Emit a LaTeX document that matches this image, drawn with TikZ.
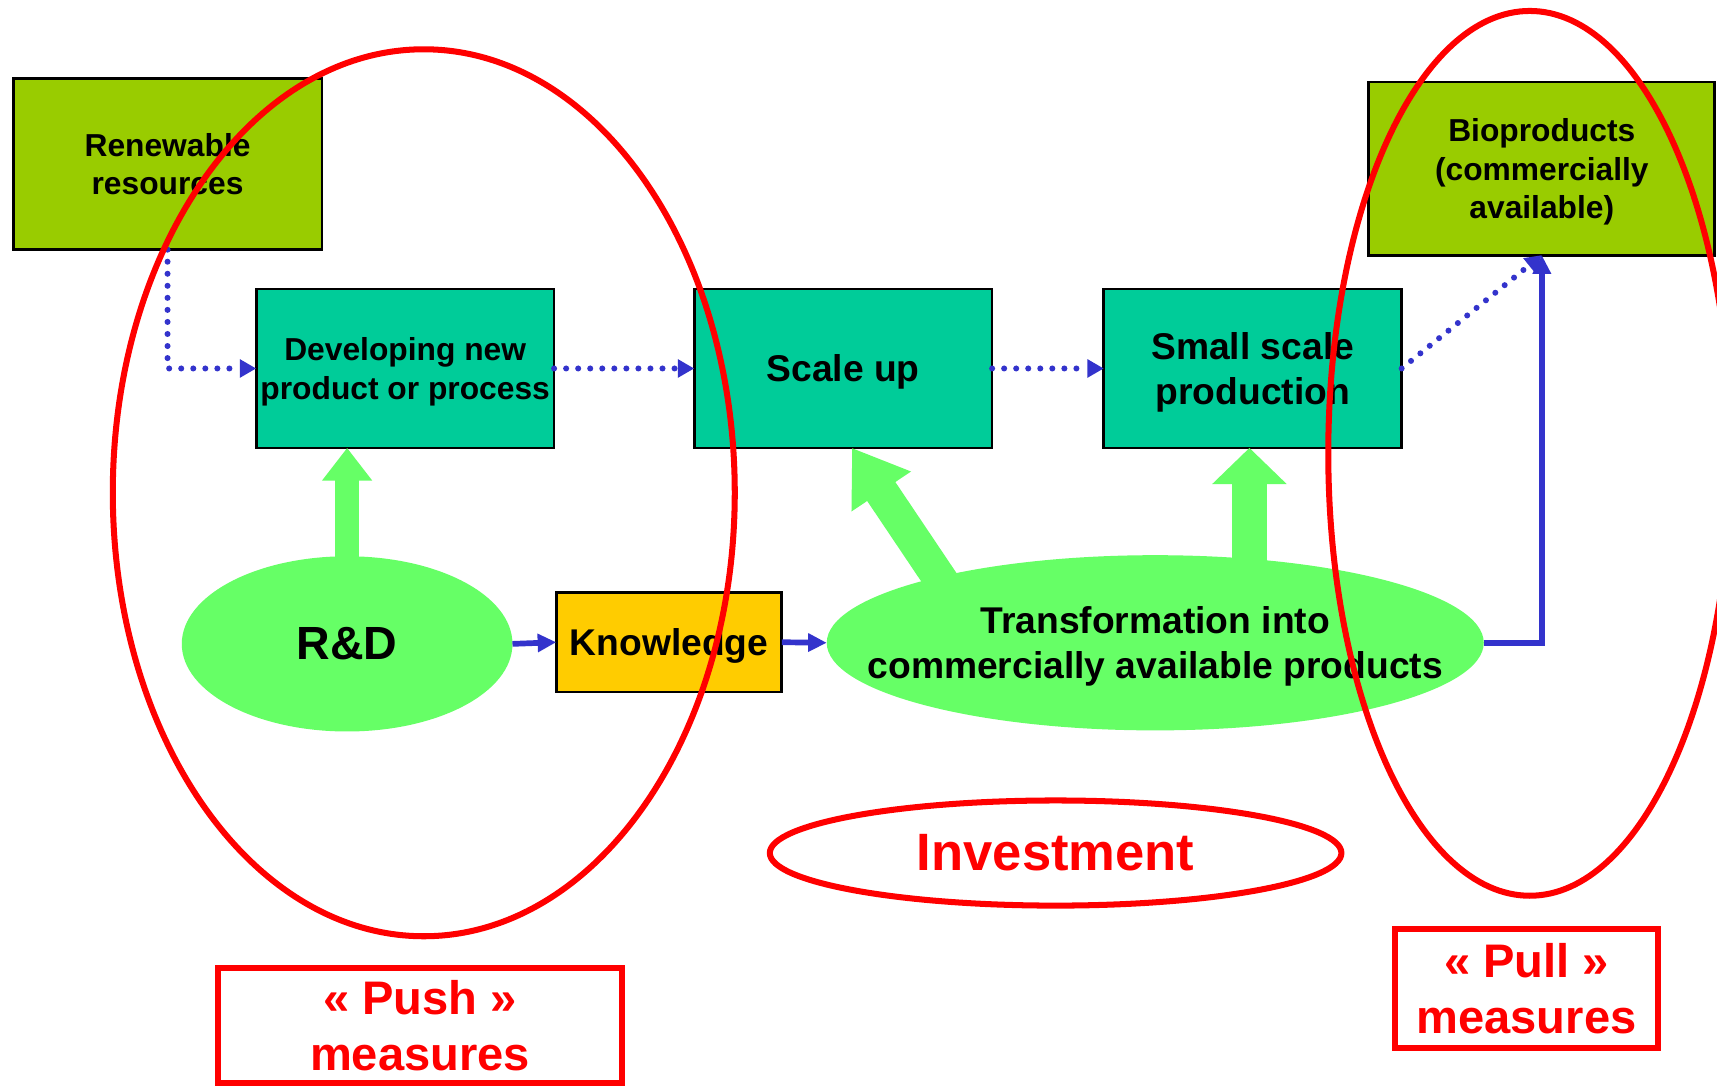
\documentclass[tikz,border=0pt]{standalone}
\usepackage{fontspec}
\setmainfont{Liberation Sans}
\usetikzlibrary{arrows.meta,shapes.geometric}
\definecolor{c99cc00}{RGB}{153,204,0}
\definecolor{c00cc99}{RGB}{0,204,153}
\definecolor{cffcc00}{RGB}{255,204,0}
\definecolor{c66ff66}{RGB}{102,255,102}
\definecolor{c3333cc}{RGB}{51,51,204}
\definecolor{cff0000}{RGB}{255,0,0}

\begin{document}
\begin{tikzpicture}[y=1pt, x=1pt, yscale=-1, inner sep=0pt, outer sep=0pt,
  box/.style={draw=black, line width=2.5pt, align=center, text depth=0pt},
  txtsmall/.style={font=\fontsize{29}{35}\selectfont\bfseries},
  txtbig/.style={font=\fontsize{34}{41}\selectfont\bfseries},
  blob/.style={ellipse, fill=c66ff66, align=center},
  flatarrow/.style={draw=c66ff66, line cap=butt},
  dotarrow/.style={draw=c3333cc, line width=5.5pt, line cap=round,
    dash pattern=on 0pt off 11pt, -{Triangle[length=15pt,width=16pt]}},
  solarrow/.style={draw=c3333cc, line width=5.2pt,
    -{Triangle[length=17pt,width=16pt]}},
  redlabel/.style={draw=cff0000, line width=5.5pt, text=cff0000, align=center,
    font=\fontsize{43}{51}\selectfont\bfseries}]
\useasboundingbox[fill=white] (0,0) rectangle (1568,993);
  \path (153,150) node[box, fill=c99cc00, minimum width=282pt, minimum
    height=156pt, txtsmall] (renew) {Renewable\\resources};
  \path (370,336.5) node[box, fill=c00cc99, minimum width=272pt, minimum
    height=145pt, txtsmall] (develop) {Developing new\\product or process};
  \path (770,336.5) node[box, fill=c00cc99, minimum width=272pt, minimum
    height=145pt, txtbig] (scaleup) {Scale up};
  \path (1144,336.5) node[box, fill=c00cc99, minimum width=272pt, minimum
    height=145pt, txtbig] (smallscale) {Small scale\\production};
  \path (1408,154) node[box, fill=c99cc00, minimum width=316pt, minimum
    height=158pt, txtsmall] (bioprod) {Bioproducts\\(commercially\\available)};
  \path (611,586.5) node[box, fill=cffcc00, minimum width=206pt, minimum
    height=91pt, txtbig] (knowl) {Knowledge};
  \path (317,588) node[blob, minimum width=302pt, minimum height=160pt,
    font=\fontsize{42.5}{50}\selectfont\bfseries] (rnd) {R\&D};
  \path (1055,587) node[blob, minimum width=600pt, minimum height=160pt,
    label={[txtbig, align=center, text depth=0pt]center:{Transformation
    into\\commercially available products}}] (transf) {};
  \draw[flatarrow, line width=22pt, -{Triangle[length=30pt,width=44pt]}]
    ([yshift=10pt]rnd.north) -- (rnd.north |- develop.south);
  \draw[flatarrow, line width=31pt, -{Triangle[length=48pt,width=62pt]}]
    ([xshift=-191pt,yshift=-50pt]transf.center) -- ([xshift=8pt]scaleup.south);
  \draw[flatarrow, line width=32pt, -{Triangle[length=33pt,width=66pt]}]
    ([xshift=86pt,yshift=15pt]transf.north) -- ([xshift=-3pt]smallscale.south);
  \draw[dotarrow] (renew.south) |- (develop.west);
  \draw[dotarrow] (develop.east) -- (scaleup.west);
  \draw[dotarrow] (scaleup.east) -- (smallscale.west);
  \draw[dotarrow] (smallscale.east) -- (bioprod.south);
  \draw[solarrow] (rnd.east) -- (knowl.west);
  \draw[solarrow] (knowl.east) -- (transf.west);
  \draw[solarrow] (transf.east) -| (bioprod.south);
  \begin{scope}[draw=cff0000, line width=5.5pt]
    \draw (387,450) ellipse [x radius=284pt, y radius=405pt];
    \draw (1397,414) ellipse [x radius=184pt, y radius=404pt];
    \path (964,779) node[ellipse, draw, minimum width=522pt, minimum
      height=96pt, text=cff0000, font=\fontsize{48}{56}\selectfont\bfseries]
      (invest) {Investment};
  \end{scope}
  \path (383.5,936.5) node[redlabel, minimum width=369pt, minimum
    height=105pt] (push) {« Push »\\measures};
  \path (1394,902.5) node[redlabel, minimum width=240pt, minimum
    height=109pt] (pull) {« Pull »\\measures};
\end{tikzpicture}
\end{document}
